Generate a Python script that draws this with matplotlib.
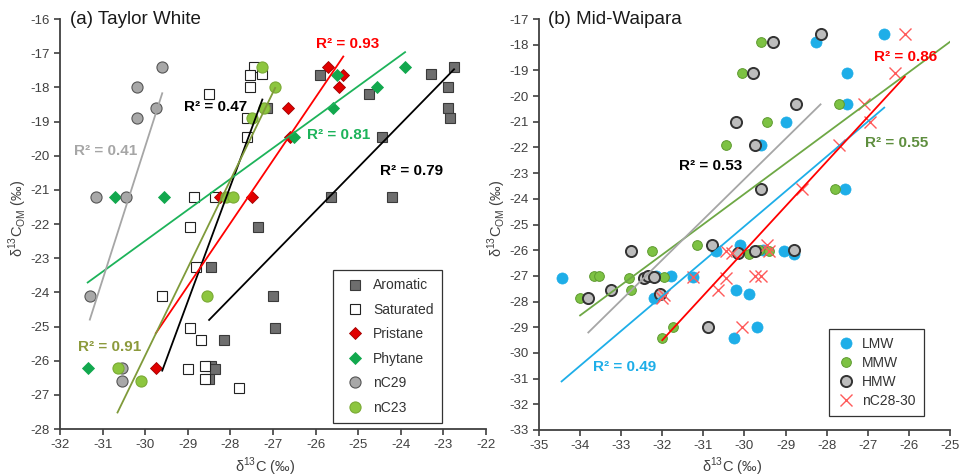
import numpy as np
import matplotlib
matplotlib.use('Agg')
from matplotlib import pyplot as plt

plt.rcParams['font.family'] = ['Liberation Sans', 'DejaVu Sans']
plt.rcParams['axes.unicode_minus'] = False

# ---- (a) Taylor White ----
aromatic_x = [-25.9, -23.3, -22.75, -22.9, -24.75, -22.9, -22.85, -27.15, -24.45, -25.65,
              -24.2, -27.35, -28.45, -27.0, -26.95, -28.15, -28.45, -28.35, -28.5]
aromatic_y = [-17.65, -17.6, -17.4, -18.0, -18.2, -18.6, -18.9, -18.6, -19.45, -21.2,
              -21.2, -22.1, -23.25, -24.1, -25.05, -25.4, -26.15, -26.25, -26.55]

saturated_x = [-27.45, -27.25, -27.55, -27.55, -28.5, -27.6, -27.6, -28.85, -28.35, -28.95,
               -28.8, -29.6, -28.95, -28.7, -29.0, -28.6, -28.6, -27.8]
saturated_y = [-17.4, -17.6, -17.65, -18.0, -18.2, -18.9, -19.45, -21.2, -21.2, -22.1,
               -23.25, -24.1, -25.05, -25.4, -26.25, -26.15, -26.55, -26.8]

pristane_x = [-25.7, -25.35, -25.45, -26.65, -26.6, -28.25, -27.5, -29.75]
pristane_y = [-17.4, -17.65, -18.0, -18.6, -19.45, -21.2, -21.2, -26.2]

phytane_x = [-23.9, -25.5, -24.55, -25.6, -26.5, -30.7, -29.55, -31.35]
phytane_y = [-17.4, -17.65, -18.0, -18.6, -19.45, -21.2, -21.2, -26.2]

nc29_x = [-29.6, -30.2, -29.75, -30.2, -31.15, -30.45, -31.3, -30.55, -30.55]
nc29_y = [-17.4, -18.0, -18.6, -18.9, -21.2, -21.2, -24.1, -26.2, -26.6]

nc23_x = [-27.25, -26.95, -27.5, -27.2, -28.1, -27.95, -28.55, -30.65, -30.1]
nc23_y = [-17.4, -18.0, -18.9, -18.6, -21.2, -21.2, -24.1, -26.2, -26.6]

# ---- (b) Mid-Waipara ----
lmw_x = [-26.6, -28.25, -27.5, -27.5, -29.0, -29.6, -27.55, -34.45, -32.2, -32.15, -31.8,
         -31.25, -30.7, -30.1, -29.55, -29.05, -28.8, -30.2, -29.9, -29.7, -30.25]
lmw_y = [-17.6, -17.9, -19.1, -20.3, -21.0, -21.9, -23.6, -27.1, -27.85, -27.0, -27.0,
         -27.05, -26.05, -25.8, -26.0, -26.05, -26.15, -27.55, -27.7, -29.0, -29.4]

mmw_x = [-29.6, -30.05, -29.45, -30.45, -27.7, -27.8, -32.25, -31.15, -29.9, -29.4,
         -29.65, -33.65, -33.55, -32.8, -32.75, -31.95, -34.0, -32.0, -31.75]
mmw_y = [-17.9, -19.1, -21.0, -21.9, -20.3, -23.6, -26.05, -25.8, -26.15, -26.05,
         -26.0, -27.0, -27.0, -27.1, -27.55, -27.05, -27.85, -29.4, -29.0]

hmw_x = [-28.15, -29.3, -29.8, -28.75, -30.2, -29.75, -29.6, -32.75, -30.8, -30.15,
         -29.75, -28.8, -33.25, -33.8, -32.45, -32.35, -32.2, -32.05, -30.9]
hmw_y = [-17.6, -17.9, -19.1, -20.3, -21.0, -21.9, -23.6, -26.05, -25.8, -26.1,
         -26.05, -26.0, -27.55, -27.85, -27.1, -27.0, -27.05, -27.7, -29.0]

nc2830_x = [-26.1, -26.35, -27.1, -26.95, -27.7, -28.6, -29.45, -30.45, -30.3, -29.4,
            -30.45, -30.65, -29.75, -29.6, -31.25, -31.95, -32.0, -30.05]
nc2830_y = [-17.6, -19.1, -20.3, -21.0, -21.9, -23.6, -25.8, -26.05, -26.1, -26.05,
            -27.1, -27.55, -27.0, -27.0, -27.05, -27.75, -27.85, -29.0]

r2_a = ['0.79', '0.47', '0.93', '0.81', '0.41', '0.91']
r2_b = ['0.49', '0.55', '0.53', '0.86']

TICK_C = '#404040'


def trend(ax, x, y, color, xmax=None):
    # least squares fit, drawn over the data range
    k, b = np.polyfit(x, y, 1)
    x0 = min(x)
    x1 = max(x) if xmax is None else xmax
    xs = np.array([x0, x1])
    ax.plot(xs, k*xs + b, color=color, lw=1.3, zorder=5)


def style_axes(ax, xlim, ylim):
    ax.set_xlim(*xlim)
    ax.set_ylim(*ylim)
    ax.set_xticks(np.arange(xlim[0], xlim[1] + 1, 1))
    ax.set_yticks(np.arange(ylim[0], ylim[1] + 1, 1))
    for s in ['top', 'right']:
        ax.spines[s].set_visible(False)
    for s in ['left', 'bottom']:
        ax.spines[s].set_color(TICK_C)
        ax.spines[s].set_linewidth(1.3)
    ax.tick_params(direction='out', length=4, width=1.2, color=TICK_C,
                   labelcolor=TICK_C, labelsize=9.5)
    ax.set_xlabel('δ$^{\\mathregular{13}}$C (‰)', fontsize=10.5, color=TICK_C)
    ax.set_ylabel('δ$^{\\mathregular{13}}$C$_{\\mathregular{OM}}$ (‰)', fontsize=10.5, color=TICK_C)


def style_legend(leg):
    leg.get_frame().set_edgecolor('black')
    leg.get_frame().set_linewidth(0.9)
    for t in leg.get_texts():
        t.set_color('#333333')


fig = plt.figure(figsize=(9.59, 4.75), dpi=100)
ax1 = fig.add_axes([60/959, 1 - 429/475, 426/959, 410/475])
ax2 = fig.add_axes([539/959, 1 - 430/475, 411/959, 411/475])

#
# (a) Taylor White
#
ax1.plot(aromatic_x, aromatic_y, ls='none', marker='s', ms=7, mfc='#6E6E6E', mec='#3A3A3A', mew=0.8, label='Aromatic')
ax1.plot(saturated_x, saturated_y, ls='none', marker='s', ms=7, mfc='white', mec='#222222', mew=0.8, label='Saturated')
ax1.plot(pristane_x, pristane_y, ls='none', marker='D', ms=6, mfc='#E00000', mec='#A00000', mew=0.6, label='Pristane')
ax1.plot(phytane_x, phytane_y, ls='none', marker='D', ms=6, mfc='#12A84E', mec='#12A84E', mew=0.6, label='Phytane')
ax1.plot(nc29_x, nc29_y, ls='none', marker='o', ms=8, mfc='#A8A8A8', mec='#555555', mew=0.8, label='nC29')
ax1.plot(nc23_x, nc23_y, ls='none', marker='o', ms=8, mfc='#8DC63F', mec='#7AAA35', mew=0.8, label='nC23')

trend(ax1, aromatic_x, aromatic_y, 'black')
trend(ax1, saturated_x, saturated_y, 'black')
trend(ax1, pristane_x, pristane_y, '#FF0000')
trend(ax1, phytane_x, phytane_y, '#1DB35A')
trend(ax1, nc29_x, nc29_y, '#A6A6A6')
trend(ax1, nc23_x, nc23_y, '#7F9A3A')

lab_a = [(-24.49, -20.44, 'black'), (-29.09, -18.58, 'black'), (-26.0, -16.74, '#FF0000'),
         (-26.21, -19.39, '#1DB35A'), (-31.67, -19.85, '#A6A6A6'), (-31.57, -25.61, '#8C9A3C')]
for (lx, ly, c), r in zip(lab_a, r2_a):
    ax1.text(lx, ly, 'R² = ' + r, color=c, fontsize=11, fontweight='bold', ha='left', va='center', zorder=6)

style_axes(ax1, (-32, -22), (-28, -16))
ax1.text(0.023, 1.0, '(a) Taylor White', transform=ax1.transAxes, fontsize=13.5,
         color='#1A1A1A', ha='left', va='center')
ax1.xaxis.set_label_coords(0.481, -0.066)
ax1.yaxis.set_label_coords(-0.072, 0.515)
leg = ax1.legend(loc='lower right', bbox_to_anchor=(0.897, 0.015), borderaxespad=0,
                 fontsize=10, frameon=True, fancybox=False, labelspacing=0.75,
                 handletextpad=0.3, borderpad=0.6, handlelength=2.0)
style_legend(leg)

#
# (b) Mid-Waipara
#
ax2.plot(lmw_x, lmw_y, ls='none', marker='o', ms=8, mfc='#1EAEE8', mec='#1EAEE8', mew=0.5, label='LMW')
ax2.plot(mmw_x, mmw_y, ls='none', marker='o', ms=7, mfc='#7DC243', mec='#5E9A30', mew=0.7, label='MMW')
ax2.plot(hmw_x, hmw_y, ls='none', marker='o', ms=8, mfc='#BDBDBD', mec='#333333', mew=1.4, label='HMW')
ax2.plot(nc2830_x, nc2830_y, ls='none', marker='x', ms=8, mec='#FF5A5A', mew=1.0, label='nC28-30')

trend(ax2, lmw_x, lmw_y, '#1EAEE8')
trend(ax2, mmw_x, mmw_y, '#6EA845', xmax=-25)
trend(ax2, hmw_x, hmw_y, '#A6A6A6')
trend(ax2, nc2830_x, nc2830_y, '#FF0000')

lab_b = [(-33.68, -30.56, '#1EAEE8'), (-27.08, -21.81, '#5E8E3E'),
         (-31.59, -22.71, 'black'), (-26.85, -18.49, '#FF0000')]
for (lx, ly, c), r in zip(lab_b, r2_b):
    ax2.text(lx, ly, 'R² = ' + r, color=c, fontsize=11, fontweight='bold', ha='left', va='center', zorder=6)

style_axes(ax2, (-35, -25), (-33, -17))
ax2.text(0.022, 1.0, '(b) Mid-Waipara', transform=ax2.transAxes, fontsize=13.5,
         color='#1A1A1A', ha='left', va='center')
ax2.xaxis.set_label_coords(0.47, -0.063)
ax2.yaxis.set_label_coords(-0.075, 0.516)
leg2 = ax2.legend(loc='lower right', bbox_to_anchor=(0.937, 0.034), borderaxespad=0,
                  fontsize=10, frameon=True, fancybox=False, labelspacing=0.35,
                  handletextpad=0.6, borderpad=0.6, handlelength=1.2)
style_legend(leg2)

fig.savefig('out.png', dpi=100)
